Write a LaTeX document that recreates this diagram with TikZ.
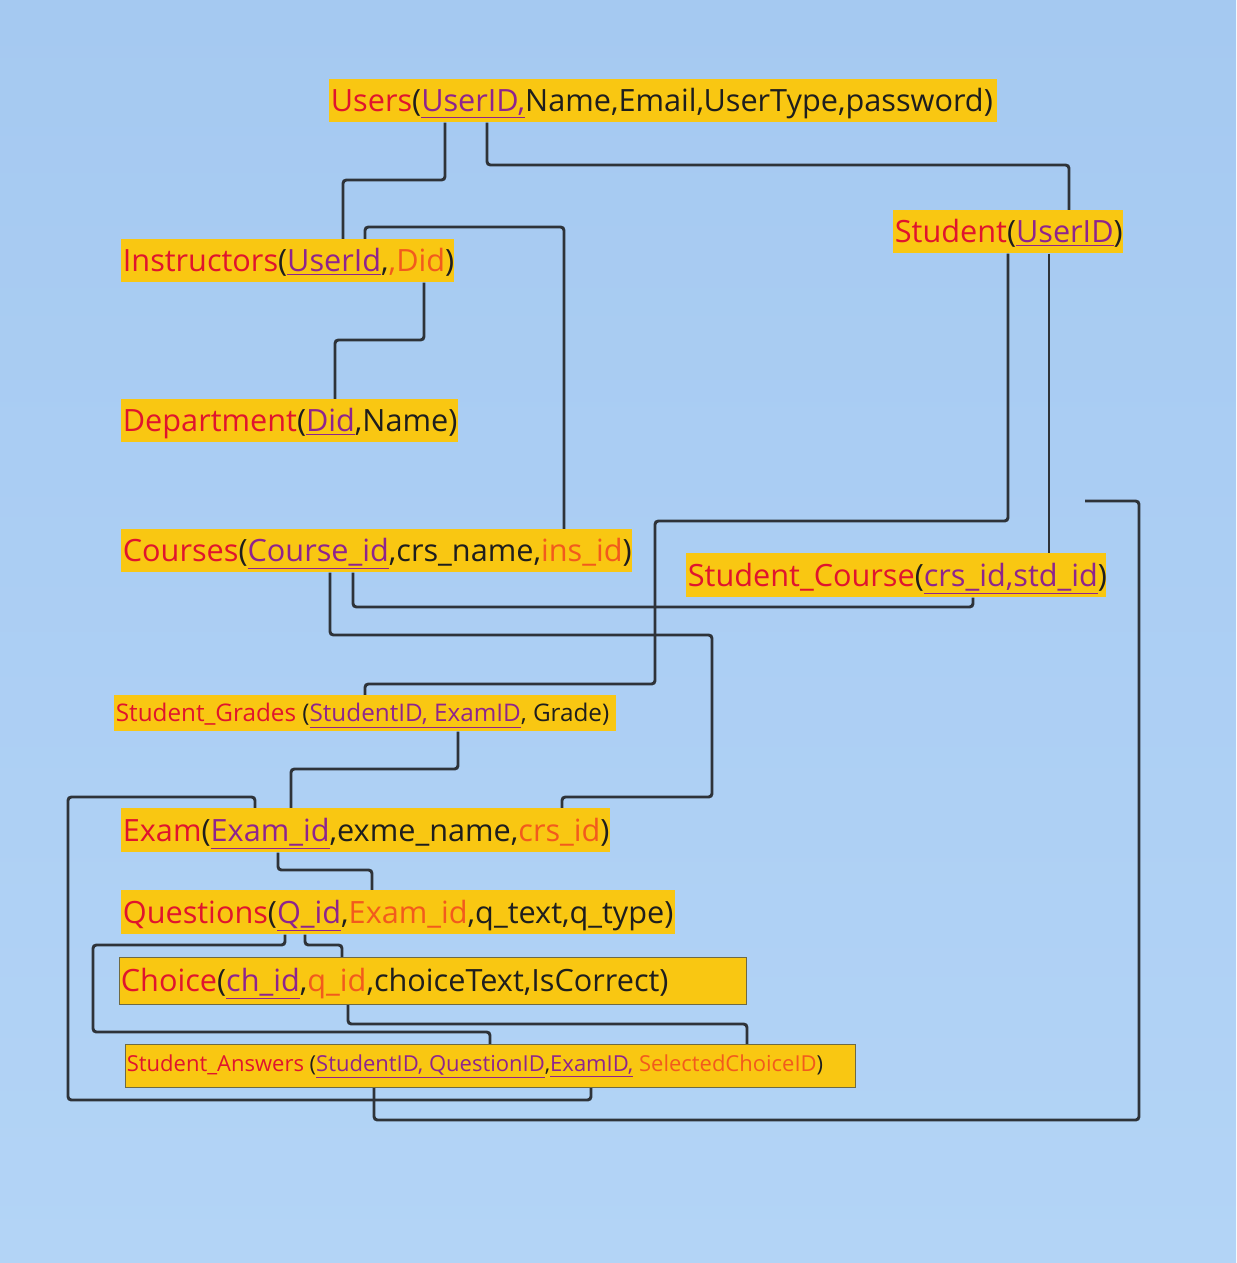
\documentclass[tikz,border=0pt]{standalone}
\usepackage{fontspec}
\setmainfont{Open Sans}
\usetikzlibrary{backgrounds}
\definecolor{bgtop}{HTML}{A5C9F1}
\definecolor{bgbot}{HTML}{B3D4F6}
\definecolor{boxfill}{HTML}{F9C712}
\definecolor{tred}{HTML}{E0142E}
\definecolor{tpur}{HTML}{8E248E}
\definecolor{torg}{HTML}{F25A1D}
\definecolor{tink}{HTML}{1E1E1E}
\definecolor{wire}{HTML}{2E3339}
\definecolor{rim}{HTML}{6E6A44}
\newcommand\cred[1]{\textcolor{tred}{#1}}
\newcommand\corg[1]{\textcolor{torg}{#1}}
\newcommand\ckey[1]{\textcolor{tpur}{\underline{#1}}}
\newcommand\pxu{0.75pt}
\tikzset{
  relbox/.style={fill=boxfill, anchor=north west, inner sep=0pt},
  reltext/.style={inner sep=0pt, anchor=base west, text=tink},
  framed/.style={draw=rim, line width=0.6pt},
  conn/.style={draw=wire, line width=2.2pt, rounded corners=2.5pt},
}
% #1 name, #2 x, #3 y, #4 width, #5 height (px), #6 box style,
% #7 font size (pt), #8 baseline drop (pt), #9 contents
\newcommand\relation[9]{%
  \node[relbox, minimum width=#4*\pxu, minimum height=#5*\pxu, #6] (#1) at (#2,#3) {};
  \node[reltext, font=\fontsize{#7}{#7}\selectfont, xshift=1.2pt, yshift=-#8pt]
    (#1-text) at (#1.west) {#9};
}
\begin{document}
\begin{tikzpicture}[x=0.75pt,y=-0.75pt]
\useasboundingbox (0,0) rectangle (1236,1263);

% relation boxes
\relation{users}{329}{79}{668}{43}{}{23}{8.2}
  {\cred{Users}(\ckey{UserID,}Name,Email,UserType,password)}
\relation{instr}{121}{239}{333}{43}{}{23}{8.2}
  {\cred{Instructors}(\ckey{UserId},\corg{,Did})}
\relation{student}{893}{210}{230}{43}{}{23}{8.2}
  {\cred{Student}(\ckey{UserID})}
\relation{dept}{121}{399}{337}{43}{}{23}{8.2}
  {\cred{Department}(\ckey{Did},Name)}
\relation{courses}{121}{529}{511}{43}{}{23}{8.2}
  {\cred{Courses}(\ckey{Course\_id},crs\_name,\corg{ins\_id})}
\relation{stcourse}{686}{553}{420}{44}{}{23}{8.2}
  {\cred{Student\_Course}(\ckey{crs\_id,std\_id})}
\relation{grades}{114}{695}{502}{36}{}{18.2}{6.5}
  {\cred{Student\_Grades} (\ckey{StudentID, ExamID}, Grade)}
\relation{exam}{121}{808}{489}{44}{}{23}{8.2}
  {\cred{Exam}(\ckey{Exam\_id},exme\_name,\corg{crs\_id})}
\relation{quest}{121}{890}{554}{44}{}{23}{8.2}
  {\cred{Questions}(\ckey{Q\_id},\corg{Exam\_id},q\_text,q\_type)}
\relation{choice}{119}{957}{627}{47}{framed}{23}{8.2}
  {\cred{Choice}(\ckey{ch\_id},\corg{q\_id},choiceText,IsCorrect)}
\relation{answers}{125}{1044}{730}{43}{framed}{16.5}{4.2}
  {\cred{Student\_Answers} (\ckey{StudentID, QuestionID},\ckey{ExamID,} \corg{SelectedChoiceID})}

\coordinate (loose) at (1085,501);

% backdrop and connectors, kept under the boxes
\begin{pgfonlayer}{background}
\shade[top color=bgtop, bottom color=bgbot] (0,0) rectangle (1236,1263);
\draw[conn] (users.south -| 445,0) |- (343,180) -- (instr.north -| 343,0);
\draw[conn] (users.south -| 487,0) |- (1069,165) -- (student.north -| 1069,0);
\draw[conn] (instr.south -| 424,0) |- (335,340) -- (dept.north -| 335,0);
\draw[conn] (instr.north -| 365,0) |- (564,227) -- (courses.north -| 564,0);
\draw[conn] (student.south -| 1008,0) |- (655,521) |- (365,684) -- (grades.north -| 365,0);
\draw[conn] (student.south -| 1049,0) -- (stcourse.north -| 1049,0);
\draw[conn] (courses.south -| 353,0) |- (973,607) -- (stcourse.south -| 973,0);
\draw[conn] (courses.south -| 330,0) |- (712,635) |- (562,797) -- (exam.north -| 562,0);
\draw[conn] (grades.south -| 458,0) |- (291,769) -- (exam.north -| 291,0);
\draw[conn] (exam.north -| 255,0) |- (68,797) |- (591,1100) -- (answers.south -| 591,0);
\draw[conn] (exam.south -| 278,0) |- (372,870) -- (quest.north -| 372,0);
\draw[conn] (quest.south -| 285,0) |- (93,945) |- (490,1032) -- (answers.north -| 490,0);
\draw[conn] (quest.south -| 305,0) |- (342,945) -- (choice.north -| 342,0);
\draw[conn] (choice.south -| 348,0) |- (747,1024) -- (answers.north -| 747,0);
\draw[conn] (answers.south -| 374,0) |- (1139,1120) |- (loose);
\end{pgfonlayer}
\end{tikzpicture}
\end{document}
